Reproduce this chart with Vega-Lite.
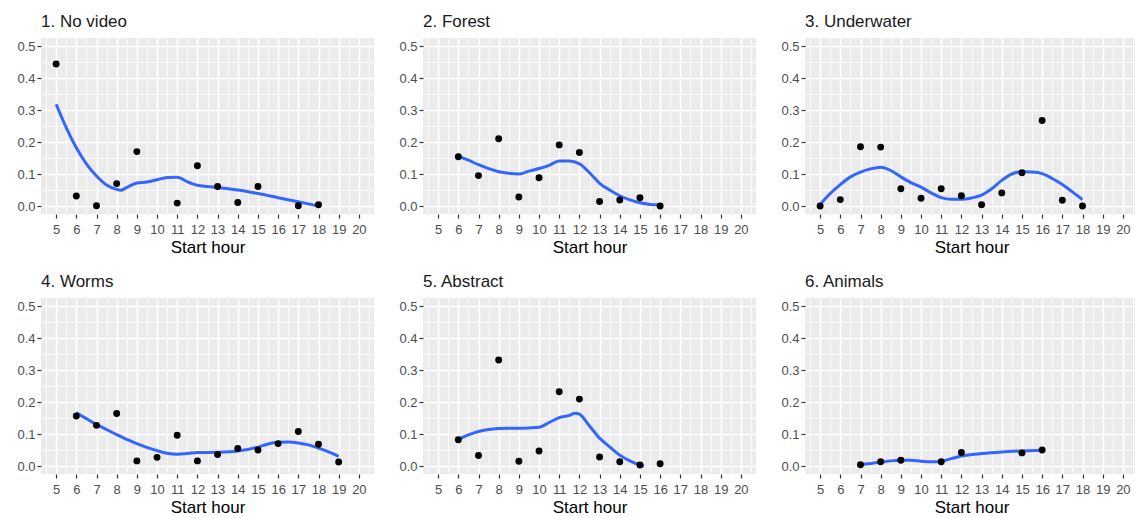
{
  "$schema": "https://vega.github.io/schema/vega-lite/v6.json",
  "padding": {"left": 16, "top": 13, "right": 0, "bottom": 0},
  "background": "white",
  "data": {"values": [
      {"kind": "obs", "panel": "1. No video", "hour": 5, "value": 0.444},
      {"kind": "obs", "panel": "1. No video", "hour": 6, "value": 0.031},
      {"kind": "obs", "panel": "1. No video", "hour": 7, "value": 0.001},
      {"kind": "obs", "panel": "1. No video", "hour": 8, "value": 0.070},
      {"kind": "obs", "panel": "1. No video", "hour": 9, "value": 0.170},
      {"kind": "obs", "panel": "1. No video", "hour": 11, "value": 0.009},
      {"kind": "obs", "panel": "1. No video", "hour": 12, "value": 0.126},
      {"kind": "obs", "panel": "1. No video", "hour": 13, "value": 0.061},
      {"kind": "obs", "panel": "1. No video", "hour": 14, "value": 0.011},
      {"kind": "obs", "panel": "1. No video", "hour": 15, "value": 0.061},
      {"kind": "obs", "panel": "1. No video", "hour": 17, "value": 0.001},
      {"kind": "obs", "panel": "1. No video", "hour": 18, "value": 0.004},
      {"kind": "obs", "panel": "2. Forest", "hour": 6, "value": 0.154},
      {"kind": "obs", "panel": "2. Forest", "hour": 7, "value": 0.095},
      {"kind": "obs", "panel": "2. Forest", "hour": 8, "value": 0.210},
      {"kind": "obs", "panel": "2. Forest", "hour": 9, "value": 0.028},
      {"kind": "obs", "panel": "2. Forest", "hour": 10, "value": 0.088},
      {"kind": "obs", "panel": "2. Forest", "hour": 11, "value": 0.191},
      {"kind": "obs", "panel": "2. Forest", "hour": 12, "value": 0.167},
      {"kind": "obs", "panel": "2. Forest", "hour": 13, "value": 0.014},
      {"kind": "obs", "panel": "2. Forest", "hour": 14, "value": 0.019},
      {"kind": "obs", "panel": "2. Forest", "hour": 15, "value": 0.026},
      {"kind": "obs", "panel": "2. Forest", "hour": 16, "value": 0.0},
      {"kind": "obs", "panel": "3. Underwater", "hour": 5, "value": 0.0},
      {"kind": "obs", "panel": "3. Underwater", "hour": 6, "value": 0.020},
      {"kind": "obs", "panel": "3. Underwater", "hour": 7, "value": 0.185},
      {"kind": "obs", "panel": "3. Underwater", "hour": 8, "value": 0.184},
      {"kind": "obs", "panel": "3. Underwater", "hour": 9, "value": 0.054},
      {"kind": "obs", "panel": "3. Underwater", "hour": 10, "value": 0.024},
      {"kind": "obs", "panel": "3. Underwater", "hour": 11, "value": 0.054},
      {"kind": "obs", "panel": "3. Underwater", "hour": 12, "value": 0.032},
      {"kind": "obs", "panel": "3. Underwater", "hour": 13, "value": 0.004},
      {"kind": "obs", "panel": "3. Underwater", "hour": 14, "value": 0.041},
      {"kind": "obs", "panel": "3. Underwater", "hour": 15, "value": 0.104},
      {"kind": "obs", "panel": "3. Underwater", "hour": 16, "value": 0.267},
      {"kind": "obs", "panel": "3. Underwater", "hour": 17, "value": 0.018},
      {"kind": "obs", "panel": "3. Underwater", "hour": 18, "value": 0.0},
      {"kind": "obs", "panel": "4. Worms", "hour": 6, "value": 0.156},
      {"kind": "obs", "panel": "4. Worms", "hour": 7, "value": 0.127},
      {"kind": "obs", "panel": "4. Worms", "hour": 8, "value": 0.164},
      {"kind": "obs", "panel": "4. Worms", "hour": 9, "value": 0.016},
      {"kind": "obs", "panel": "4. Worms", "hour": 10, "value": 0.027},
      {"kind": "obs", "panel": "4. Worms", "hour": 11, "value": 0.096},
      {"kind": "obs", "panel": "4. Worms", "hour": 12, "value": 0.016},
      {"kind": "obs", "panel": "4. Worms", "hour": 13, "value": 0.036},
      {"kind": "obs", "panel": "4. Worms", "hour": 14, "value": 0.055},
      {"kind": "obs", "panel": "4. Worms", "hour": 15, "value": 0.050},
      {"kind": "obs", "panel": "4. Worms", "hour": 16, "value": 0.070},
      {"kind": "obs", "panel": "4. Worms", "hour": 17, "value": 0.108},
      {"kind": "obs", "panel": "4. Worms", "hour": 18, "value": 0.068},
      {"kind": "obs", "panel": "4. Worms", "hour": 19, "value": 0.0125},
      {"kind": "obs", "panel": "5. Abstract", "hour": 6, "value": 0.082},
      {"kind": "obs", "panel": "5. Abstract", "hour": 7, "value": 0.033},
      {"kind": "obs", "panel": "5. Abstract", "hour": 8, "value": 0.331},
      {"kind": "obs", "panel": "5. Abstract", "hour": 9, "value": 0.015},
      {"kind": "obs", "panel": "5. Abstract", "hour": 10, "value": 0.047},
      {"kind": "obs", "panel": "5. Abstract", "hour": 11, "value": 0.232},
      {"kind": "obs", "panel": "5. Abstract", "hour": 12, "value": 0.209},
      {"kind": "obs", "panel": "5. Abstract", "hour": 13, "value": 0.028},
      {"kind": "obs", "panel": "5. Abstract", "hour": 14, "value": 0.0135},
      {"kind": "obs", "panel": "5. Abstract", "hour": 15, "value": 0.003},
      {"kind": "obs", "panel": "5. Abstract", "hour": 16, "value": 0.007},
      {"kind": "obs", "panel": "6. Animals", "hour": 7, "value": 0.004},
      {"kind": "obs", "panel": "6. Animals", "hour": 8, "value": 0.0135},
      {"kind": "obs", "panel": "6. Animals", "hour": 9, "value": 0.018},
      {"kind": "obs", "panel": "6. Animals", "hour": 11, "value": 0.0135},
      {"kind": "obs", "panel": "6. Animals", "hour": 12, "value": 0.042},
      {"kind": "obs", "panel": "6. Animals", "hour": 15, "value": 0.041},
      {"kind": "obs", "panel": "6. Animals", "hour": 16, "value": 0.050},
      {"kind": "fit", "panel": "1. No video", "hour": 5, "value": 0.318},
      {"kind": "fit", "panel": "1. No video", "hour": 5.5, "value": 0.245},
      {"kind": "fit", "panel": "1. No video", "hour": 6, "value": 0.182},
      {"kind": "fit", "panel": "1. No video", "hour": 6.5, "value": 0.132},
      {"kind": "fit", "panel": "1. No video", "hour": 7, "value": 0.094},
      {"kind": "fit", "panel": "1. No video", "hour": 7.5, "value": 0.066},
      {"kind": "fit", "panel": "1. No video", "hour": 8, "value": 0.052},
      {"kind": "fit", "panel": "1. No video", "hour": 8.2, "value": 0.049},
      {"kind": "fit", "panel": "1. No video", "hour": 8.5, "value": 0.058},
      {"kind": "fit", "panel": "1. No video", "hour": 9, "value": 0.072},
      {"kind": "fit", "panel": "1. No video", "hour": 9.5, "value": 0.075},
      {"kind": "fit", "panel": "1. No video", "hour": 10, "value": 0.082},
      {"kind": "fit", "panel": "1. No video", "hour": 10.5, "value": 0.089},
      {"kind": "fit", "panel": "1. No video", "hour": 11, "value": 0.090},
      {"kind": "fit", "panel": "1. No video", "hour": 11.5, "value": 0.076},
      {"kind": "fit", "panel": "1. No video", "hour": 12, "value": 0.065},
      {"kind": "fit", "panel": "1. No video", "hour": 12.5, "value": 0.061},
      {"kind": "fit", "panel": "1. No video", "hour": 13, "value": 0.058},
      {"kind": "fit", "panel": "1. No video", "hour": 14, "value": 0.050},
      {"kind": "fit", "panel": "1. No video", "hour": 15, "value": 0.039},
      {"kind": "fit", "panel": "1. No video", "hour": 16, "value": 0.026},
      {"kind": "fit", "panel": "1. No video", "hour": 17, "value": 0.013},
      {"kind": "fit", "panel": "1. No video", "hour": 18, "value": 0.0},
      {"kind": "fit", "panel": "2. Forest", "hour": 6, "value": 0.156},
      {"kind": "fit", "panel": "2. Forest", "hour": 6.5, "value": 0.143},
      {"kind": "fit", "panel": "2. Forest", "hour": 7, "value": 0.129},
      {"kind": "fit", "panel": "2. Forest", "hour": 7.5, "value": 0.117},
      {"kind": "fit", "panel": "2. Forest", "hour": 8, "value": 0.107},
      {"kind": "fit", "panel": "2. Forest", "hour": 8.5, "value": 0.102},
      {"kind": "fit", "panel": "2. Forest", "hour": 9, "value": 0.100},
      {"kind": "fit", "panel": "2. Forest", "hour": 9.5, "value": 0.109},
      {"kind": "fit", "panel": "2. Forest", "hour": 10, "value": 0.117},
      {"kind": "fit", "panel": "2. Forest", "hour": 10.5, "value": 0.127},
      {"kind": "fit", "panel": "2. Forest", "hour": 11, "value": 0.141},
      {"kind": "fit", "panel": "2. Forest", "hour": 11.5, "value": 0.141},
      {"kind": "fit", "panel": "2. Forest", "hour": 12, "value": 0.132},
      {"kind": "fit", "panel": "2. Forest", "hour": 12.5, "value": 0.104},
      {"kind": "fit", "panel": "2. Forest", "hour": 13, "value": 0.071},
      {"kind": "fit", "panel": "2. Forest", "hour": 13.5, "value": 0.050},
      {"kind": "fit", "panel": "2. Forest", "hour": 14, "value": 0.032},
      {"kind": "fit", "panel": "2. Forest", "hour": 14.5, "value": 0.019},
      {"kind": "fit", "panel": "2. Forest", "hour": 15, "value": 0.010},
      {"kind": "fit", "panel": "2. Forest", "hour": 15.5, "value": 0.005},
      {"kind": "fit", "panel": "2. Forest", "hour": 16, "value": 0.003},
      {"kind": "fit", "panel": "3. Underwater", "hour": 5, "value": 0.005},
      {"kind": "fit", "panel": "3. Underwater", "hour": 5.5, "value": 0.039},
      {"kind": "fit", "panel": "3. Underwater", "hour": 6, "value": 0.067},
      {"kind": "fit", "panel": "3. Underwater", "hour": 6.5, "value": 0.091},
      {"kind": "fit", "panel": "3. Underwater", "hour": 7, "value": 0.106},
      {"kind": "fit", "panel": "3. Underwater", "hour": 7.5, "value": 0.116},
      {"kind": "fit", "panel": "3. Underwater", "hour": 8, "value": 0.121},
      {"kind": "fit", "panel": "3. Underwater", "hour": 8.5, "value": 0.111},
      {"kind": "fit", "panel": "3. Underwater", "hour": 9, "value": 0.091},
      {"kind": "fit", "panel": "3. Underwater", "hour": 9.5, "value": 0.073},
      {"kind": "fit", "panel": "3. Underwater", "hour": 10, "value": 0.059},
      {"kind": "fit", "panel": "3. Underwater", "hour": 10.5, "value": 0.041},
      {"kind": "fit", "panel": "3. Underwater", "hour": 11, "value": 0.026},
      {"kind": "fit", "panel": "3. Underwater", "hour": 11.5, "value": 0.021},
      {"kind": "fit", "panel": "3. Underwater", "hour": 12, "value": 0.021},
      {"kind": "fit", "panel": "3. Underwater", "hour": 12.5, "value": 0.025},
      {"kind": "fit", "panel": "3. Underwater", "hour": 13, "value": 0.034},
      {"kind": "fit", "panel": "3. Underwater", "hour": 13.5, "value": 0.054},
      {"kind": "fit", "panel": "3. Underwater", "hour": 14, "value": 0.080},
      {"kind": "fit", "panel": "3. Underwater", "hour": 14.5, "value": 0.100},
      {"kind": "fit", "panel": "3. Underwater", "hour": 15, "value": 0.107},
      {"kind": "fit", "panel": "3. Underwater", "hour": 15.5, "value": 0.106},
      {"kind": "fit", "panel": "3. Underwater", "hour": 16, "value": 0.101},
      {"kind": "fit", "panel": "3. Underwater", "hour": 16.5, "value": 0.086},
      {"kind": "fit", "panel": "3. Underwater", "hour": 17, "value": 0.067},
      {"kind": "fit", "panel": "3. Underwater", "hour": 17.5, "value": 0.044},
      {"kind": "fit", "panel": "3. Underwater", "hour": 18, "value": 0.020},
      {"kind": "fit", "panel": "4. Worms", "hour": 6, "value": 0.167},
      {"kind": "fit", "panel": "4. Worms", "hour": 6.5, "value": 0.148},
      {"kind": "fit", "panel": "4. Worms", "hour": 7, "value": 0.130},
      {"kind": "fit", "panel": "4. Worms", "hour": 7.5, "value": 0.114},
      {"kind": "fit", "panel": "4. Worms", "hour": 8, "value": 0.098},
      {"kind": "fit", "panel": "4. Worms", "hour": 8.5, "value": 0.083},
      {"kind": "fit", "panel": "4. Worms", "hour": 9, "value": 0.070},
      {"kind": "fit", "panel": "4. Worms", "hour": 9.5, "value": 0.058},
      {"kind": "fit", "panel": "4. Worms", "hour": 10, "value": 0.048},
      {"kind": "fit", "panel": "4. Worms", "hour": 10.5, "value": 0.040},
      {"kind": "fit", "panel": "4. Worms", "hour": 11, "value": 0.037},
      {"kind": "fit", "panel": "4. Worms", "hour": 11.5, "value": 0.039},
      {"kind": "fit", "panel": "4. Worms", "hour": 12, "value": 0.042},
      {"kind": "fit", "panel": "4. Worms", "hour": 13, "value": 0.043},
      {"kind": "fit", "panel": "4. Worms", "hour": 14, "value": 0.047},
      {"kind": "fit", "panel": "4. Worms", "hour": 15, "value": 0.059},
      {"kind": "fit", "panel": "4. Worms", "hour": 15.5, "value": 0.069},
      {"kind": "fit", "panel": "4. Worms", "hour": 16, "value": 0.074},
      {"kind": "fit", "panel": "4. Worms", "hour": 16.5, "value": 0.075},
      {"kind": "fit", "panel": "4. Worms", "hour": 17, "value": 0.072},
      {"kind": "fit", "panel": "4. Worms", "hour": 17.5, "value": 0.066},
      {"kind": "fit", "panel": "4. Worms", "hour": 18, "value": 0.056},
      {"kind": "fit", "panel": "4. Worms", "hour": 18.5, "value": 0.044},
      {"kind": "fit", "panel": "4. Worms", "hour": 19, "value": 0.030},
      {"kind": "fit", "panel": "5. Abstract", "hour": 6, "value": 0.083},
      {"kind": "fit", "panel": "5. Abstract", "hour": 6.5, "value": 0.097},
      {"kind": "fit", "panel": "5. Abstract", "hour": 7, "value": 0.108},
      {"kind": "fit", "panel": "5. Abstract", "hour": 7.5, "value": 0.114},
      {"kind": "fit", "panel": "5. Abstract", "hour": 8, "value": 0.117},
      {"kind": "fit", "panel": "5. Abstract", "hour": 8.5, "value": 0.118},
      {"kind": "fit", "panel": "5. Abstract", "hour": 9, "value": 0.118},
      {"kind": "fit", "panel": "5. Abstract", "hour": 9.5, "value": 0.119},
      {"kind": "fit", "panel": "5. Abstract", "hour": 10, "value": 0.121},
      {"kind": "fit", "panel": "5. Abstract", "hour": 10.5, "value": 0.136},
      {"kind": "fit", "panel": "5. Abstract", "hour": 11, "value": 0.151},
      {"kind": "fit", "panel": "5. Abstract", "hour": 11.5, "value": 0.158},
      {"kind": "fit", "panel": "5. Abstract", "hour": 11.8, "value": 0.165},
      {"kind": "fit", "panel": "5. Abstract", "hour": 12, "value": 0.162},
      {"kind": "fit", "panel": "5. Abstract", "hour": 12.5, "value": 0.125},
      {"kind": "fit", "panel": "5. Abstract", "hour": 13, "value": 0.087},
      {"kind": "fit", "panel": "5. Abstract", "hour": 13.5, "value": 0.060},
      {"kind": "fit", "panel": "5. Abstract", "hour": 14, "value": 0.034},
      {"kind": "fit", "panel": "5. Abstract", "hour": 14.5, "value": 0.016},
      {"kind": "fit", "panel": "5. Abstract", "hour": 15, "value": 0.003},
      {"kind": "fit", "panel": "5. Abstract", "hour": 15.2, "value": 0.0},
      {"kind": "fit", "panel": "6. Animals", "hour": 7, "value": 0.004},
      {"kind": "fit", "panel": "6. Animals", "hour": 7.5, "value": 0.008},
      {"kind": "fit", "panel": "6. Animals", "hour": 8, "value": 0.012},
      {"kind": "fit", "panel": "6. Animals", "hour": 8.5, "value": 0.016},
      {"kind": "fit", "panel": "6. Animals", "hour": 9, "value": 0.018},
      {"kind": "fit", "panel": "6. Animals", "hour": 9.5, "value": 0.018},
      {"kind": "fit", "panel": "6. Animals", "hour": 10, "value": 0.015},
      {"kind": "fit", "panel": "6. Animals", "hour": 10.5, "value": 0.013},
      {"kind": "fit", "panel": "6. Animals", "hour": 11, "value": 0.015},
      {"kind": "fit", "panel": "6. Animals", "hour": 11.5, "value": 0.023},
      {"kind": "fit", "panel": "6. Animals", "hour": 12, "value": 0.031},
      {"kind": "fit", "panel": "6. Animals", "hour": 13, "value": 0.039},
      {"kind": "fit", "panel": "6. Animals", "hour": 14, "value": 0.044},
      {"kind": "fit", "panel": "6. Animals", "hour": 15, "value": 0.047},
      {"kind": "fit", "panel": "6. Animals", "hour": 16, "value": 0.049}
  ]},
  "facet": {
    "field": "panel",
    "type": "nominal",
    "sort": "ascending",
    "header": {
      "title": null,
      "labelAnchor": "start",
      "labelAlign": "left",
      "labelFontSize": 17,
      "labelFont": "Liberation Sans",
      "labelColor": "#1A1A1A",
      "labelPadding": 7
    }
  },
  "columns": 3,
  "spacing": {"column": 24, "row": 18},
  "spec": {
    "width": 333,
    "height": 176,
    "encoding": {
      "x": {
        "field": "hour",
        "type": "quantitative",
        "scale": {"domain": [4.25, 20.75], "nice": false, "zero": false},
        "axis": {
          "title": "Start hour",
          "values": [4.5, 5, 5.5, 6, 6.5, 7, 7.5, 8, 8.5, 9, 9.5, 10, 10.5, 11, 11.5, 12, 12.5, 13, 13.5, 14, 14.5, 15, 15.5, 16, 16.5, 17, 17.5, 18, 18.5, 19, 19.5, 20, 20.5],
          "labelExpr": "datum.value % 1 === 0 ? format(datum.value, 'd') : ''",
          "labelOverlap": false,
          "labelFlush": false,
          "labelPadding": 5,
          "gridWidth": {"condition": {"test": "datum.value % 1 === 0", "value": 1.6}, "value": 0.8},
          "tickOpacity": {"condition": {"test": "datum.value % 1 === 0", "value": 1}, "value": 0}
        }
      },
      "y": {
        "field": "value",
        "type": "quantitative",
        "scale": {"domain": [-0.025, 0.525], "nice": false, "zero": false},
        "axis": {
          "title": null,
          "values": [0, 0.05, 0.1, 0.15, 0.2, 0.25, 0.3, 0.35, 0.4, 0.45, 0.5],
          "labelExpr": "abs(datum.value * 10 - round(datum.value * 10)) < 0.001 ? format(datum.value, '.1f') : ''",
          "labelOverlap": false,
          "labelFlush": false,
          "labelPadding": 2,
          "gridWidth": {"condition": {"test": "abs(datum.value * 10 - round(datum.value * 10)) < 0.001", "value": 1.6}, "value": 0.8},
          "tickOpacity": {"condition": {"test": "abs(datum.value * 10 - round(datum.value * 10)) < 0.001", "value": 1}, "value": 0}
        }
      }
    },
    "layer": [
      {
        "transform": [{"filter": "datum.kind === 'fit'"}],
        "mark": {"type": "line", "color": "#3366FF", "strokeWidth": 3, "interpolate": "monotone"}
      },
      {
        "transform": [{"filter": "datum.kind === 'obs'"}],
        "mark": {"type": "circle", "color": "black", "opacity": 1, "size": 48}
      }
    ]
  },
  "resolve": {"axis": {"x": "independent", "y": "independent"}},
  "config": {
    "font": "Liberation Sans",
    "view": {"fill": "#EBEBEB", "stroke": null},
    "axis": {
      "domain": false,
      "gridColor": "white",
      "gridOpacity": 1,
      "tickColor": "#333333",
      "tickSize": 4,
      "tickWidth": 1.2,
      "labelColor": "#4D4D4D",
      "labelFontSize": 13,
      "labelFont": "Liberation Sans",
      "titleFont": "Liberation Sans",
      "titleFontSize": 17,
      "titleFontWeight": "normal",
      "titleColor": "black",
      "titlePadding": 3
    }
  }
}
